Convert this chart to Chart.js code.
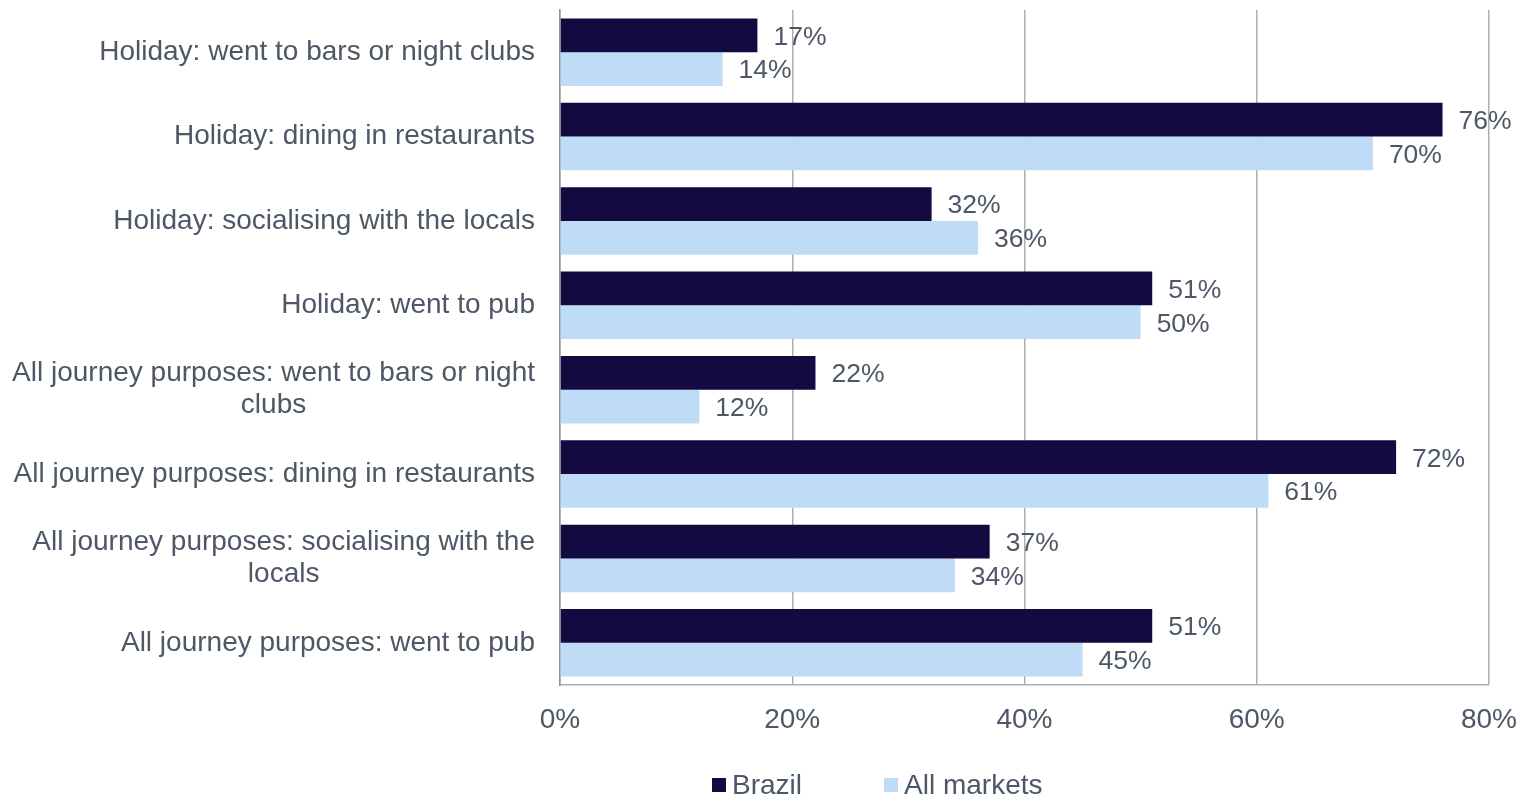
<!DOCTYPE html>
<html>
<head>
<meta charset="utf-8">
<script src="https://cdn.jsdelivr.net/npm/chart.js@4/dist/chart.umd.min.js"></script>
<style>
  html, body { margin: 0; padding: 0; background: #ffffff; }
  #wrap { width: 1526px; height: 797px; }
</style>
</head>
<body>
<div id="wrap"><canvas id="chart" width="1526" height="797"></canvas></div>
<script>
// Activity categories (multi-line where the label wraps)
const categories = [
  ['Holiday: went to bars or night clubs'],
  ['Holiday: dining in restaurants'],
  ['Holiday: socialising with the locals'],
  ['Holiday: went to pub'],
  ['All journey purposes: went to bars or night', 'clubs'],
  ['All journey purposes: dining in restaurants'],
  ['All journey purposes: socialising with the', 'locals'],
  ['All journey purposes: went to pub']
];

// Share of visitors (%)
const brazil     = [17, 76, 32, 51, 22, 72, 37, 51];
const allMarkets = [14, 70, 36, 50, 12, 61, 34, 45];

const seriesNames  = ['Brazil', 'All markets'];
const seriesColors = ['#140a42', '#bfdcf7'];

// Value axis ticks (%)
const xTicks = [0, 20, 40, 60, 80];

const FONT = '"Liberation Sans", Arial, sans-serif';
const TEXT = '#4d5765';
const GRID = '#a9b1b1';

// Value labels at the end of each bar
const valueLabels = {
  id: 'valueLabels',
  afterDatasetsDraw(chart) {
    const ctx = chart.ctx;
    ctx.save();
    ctx.font = '26.5px ' + FONT;
    ctx.fillStyle = TEXT;
    ctx.textAlign = 'left';
    ctx.textBaseline = 'middle';
    chart.data.datasets.forEach((ds, i) => {
      chart.getDatasetMeta(i).data.forEach((el, j) => {
        ctx.fillText(ds.data[j] + '%', el.x + 16, el.y + 2);
      });
    });
    ctx.restore();
  }
};

// Category labels: right-aligned blocks, wrapped lines centred within the block
const categoryLabels = {
  id: 'categoryLabels',
  afterDraw(chart) {
    const ctx = chart.ctx;
    const y = chart.scales.y;
    const right = chart.chartArea.left - 25;
    const lineH = 32;
    ctx.save();
    ctx.font = '28px ' + FONT;
    ctx.fillStyle = TEXT;
    ctx.textAlign = 'center';
    ctx.textBaseline = 'middle';
    chart.data.labels.forEach((lines, i) => {
      const cy = y.getPixelForTick(i);
      const w = Math.max(...lines.map(l => ctx.measureText(l).width));
      const cx = right - w / 2;
      const y0 = cy - (lines.length - 1) * lineH / 2;
      lines.forEach((l, k) => ctx.fillText(l, cx, y0 + k * lineH));
    });
    ctx.restore();
  }
};

// Legend row beneath the axis
const legendRow = {
  id: 'legendRow',
  afterDraw(chart) {
    const ctx = chart.ctx;
    ctx.save();
    ctx.font = '28px ' + FONT;
    ctx.textBaseline = 'middle';
    ctx.textAlign = 'left';
    const cy = chart.height - 12;
    let x = 712;
    chart.data.datasets.forEach((ds) => {
      ctx.fillStyle = ds.backgroundColor;
      ctx.fillRect(x, cy - 7, 14, 14);
      ctx.fillStyle = TEXT;
      ctx.fillText(ds.label, x + 20, cy + 1);
      x += 20 + ctx.measureText(ds.label).width + 82;
    });
    ctx.restore();
  }
};

new Chart(document.getElementById('chart'), {
  type: 'bar',
  data: {
    labels: categories,
    datasets: [
      { label: seriesNames[0], data: brazil, backgroundColor: seriesColors[0] },
      { label: seriesNames[1], data: allMarkets, backgroundColor: seriesColors[1] }
    ]
  },
  options: {
    indexAxis: 'y',
    responsive: false,
    animation: false,
    devicePixelRatio: 1,
    categoryPercentage: 0.8,
    barPercentage: 1.0,
    layout: { padding: { top: 10, right: 37, bottom: 62, left: 0 } },
    plugins: {
      legend: { display: false },
      tooltip: { enabled: false }
    },
    scales: {
      x: {
        min: xTicks[0],
        max: xTicks[xTicks.length - 1],
        afterBuildTicks(scale) { scale.ticks = xTicks.map(v => ({ value: v })); },
        afterFit(scale) {
          scale.height = 50;
          scale.paddingLeft = 0;
          scale.paddingRight = 0;
        },
        grid: { color: GRID, lineWidth: 1.5, drawTicks: false },
        border: { color: GRID, width: 1.5 },
        ticks: {
          padding: 18,
          color: TEXT,
          font: { family: FONT, size: 28 },
          callback: v => v + '%'
        }
      },
      y: {
        afterFit(scale) { scale.width = 560; },
        grid: { display: false, drawTicks: false },
        border: { color: '#8f9696', width: 1.5 },
        ticks: { display: false }
      }
    }
  },
  plugins: [valueLabels, categoryLabels, legendRow]
});
</script>
</body>
</html>
